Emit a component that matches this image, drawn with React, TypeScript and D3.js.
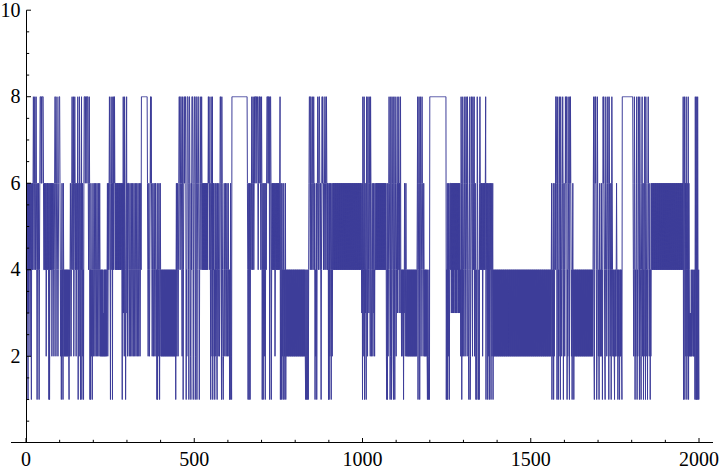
import React from 'react';
import * as d3 from 'd3';

// Series values, in order (x = 1 .. 2000), as digit strings.
const SERIES_CHUNKS: string[] = [
  // 0-129
  "46364163646246416464", "6864686468", "6414646414", "6888686888864",
  "46464624646464161464646246464", "246886246864246888642414624164", "242424242424242142",
  // 130-221
  "4642468646824686462464", "68146286416481462416", "8886888868886468", "6141642414", "642464246424642464246424",
  // 222-283
  "242424232424242424", "4624646", "8641686461864868", "646464646464646464646",
  // 284-401
  "41638362864136836246", "64246424642464246424642464246424642464", "8888888888888888886",
  "424642", "46868642", "464246424642", "41614246414", "6424",
  // 402-522
  "242424242424242424242424242424242424242424",
  "14624642", "4688646886428614686", "88861428886418864216", "48886146886128861468", "864146864686",
  // 523-657
  "464646464646464646", "86864",
  "64186428164", "624164264", "216424", "6424", "88641864212", "46424642464246424", "1416421",
  "8888888888888888888888888888888888888888888888", "6",
  // 658-774
  "414616414646", "8646864686", "88868888646888686468", "614614624614646", "8886886814886146",
  "46464646246464646464646", "814614624146142461424",
  // 775-912
  "2424242424242424242424242424242424242424242424242424242",
  "1421412414", "68864886468", "64686461424614", "68646886464146868646468864686", "4646141624641462464",
  // 913-1069
  "646464646464646464646464646464646464646464646464646464646464646464646464646464646464",
  "3618642814634186", "4286438642864", "236424634264",
  "46464646464646464646464646464646",
  // 1070-1198
  "2141624", "686412861486421864186", "424683646836468", "3424342414364246424",
  "24242424242424242424242424242",
  "4681468614862468", "64246424242424", "21421241",
  // 1199-1388
  "8888888888888888888888888888888888888888888888888",
  "14161426414646", "6364636363646363636463636363",
  "428614286424", "6824686428642", "146812", "46864286468246", "414218642141686",
  "464646246464646", "814646146241646416424614",
  // 1389-1561
  "2424242424242424242424242424242424242424242424242424242424242424242424242424242424242424" +
  "24242424242424242424242424242424242424242424242424242424242424242424242424242424242",
  // 1562-1685
  "4614246142464", "8886148614286418", "642468614642486", "88614286421868", "642414624142",
  "424242424242424242424242424242424242424242424242424242",
  // 1686-1804
  "468214868641286", "424146242462414", "868642148642468", "6418642461486424", "24214242464241424214242421",
  "88888888888888888888888888888888",
  // 1805-1999
  "642486142468142", "486418642146824", "614286418642416", "8642461424",
  "6464646464646464646464646464646464646464646464646464646464646464646464646464646464646464646464",
  "81468146284164281642", "323242343242324", "1841814184141",
];

const X_TICKS = [0, 500, 1000, 1500, 2000];
const Y_TICKS = [2, 4, 6, 8, 10];
const X_MINOR = d3.range(0, 2001, 100);
const Y_MINOR = d3.range(0.5, 10.01, 0.5);

const VALUES: number[] = SERIES_CHUNKS.join('').split('').map(Number);

export default function App() {
  const x = d3.scaleLinear().domain([0, 2000]).range([26, 699]);
  const y = d3.scaleLinear().domain([0, 10]).range([442.8, 10.2]);
  const path = d3.line<number>().x((_, i) => x(i + 1)).y((d) => y(d))(VALUES) ?? '';
  const ax = 26.5;
  const ay = 442.5;
  const font = '"Liberation Serif","Times New Roman",Times,serif';
  return (
    <svg width={720} height={470} style={{ position: 'absolute', left: 0, top: 0 }}>
      <rect width={720} height={470} fill="#ffffff" />
      <path d={path} fill="none" stroke="#3d3d99" strokeWidth={1} strokeLinejoin="bevel" />
      <line x1={11} x2={713} y1={ay} y2={ay} stroke="#000" strokeWidth={1} />
      <line x1={ax} x2={ax} y1={ay} y2={y(10)} stroke="#000" strokeWidth={1} />
      {X_MINOR.map((t) => (
        <line key={'xm' + t} x1={x(t)} x2={x(t)} y1={ay} y2={ay - (t % 500 === 0 ? 4.5 : 2.7)} stroke="#000" strokeWidth={1} />
      ))}
      {Y_MINOR.map((t) => (
        <line key={'ym' + t} x1={ax} x2={ax + (t % 2 === 0 ? 4.5 : 2.7)} y1={y(t)} y2={y(t)} stroke="#000" strokeWidth={1} />
      ))}
      {X_TICKS.map((t) => (
        <text key={'xl' + t} x={x(t)} y={466} textAnchor="middle" fontFamily={font} fontSize={20} fill="#000">
          {t}
        </text>
      ))}
      {Y_TICKS.map((t) => (
        <text key={'yl' + t} x={20.5} y={y(t) + 6.6} textAnchor="end" fontFamily={font} fontSize={20} fill="#000">
          {t}
        </text>
      ))}
    </svg>
  );
}
